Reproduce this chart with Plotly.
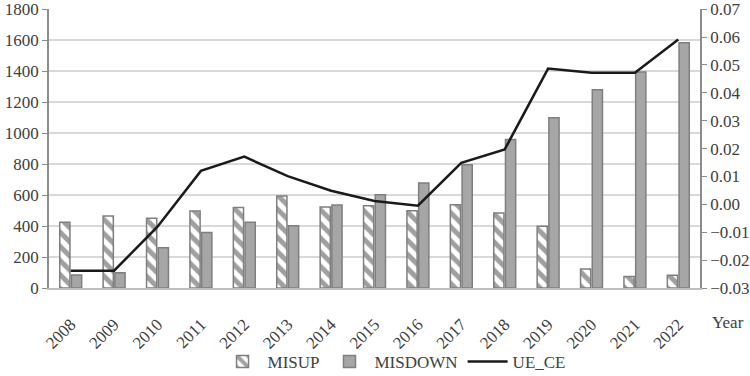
import plotly.graph_objects as go

years = [str(y) for y in range(2008, 2023)]
misup = [424, 464, 450, 497, 520, 594, 523, 531, 499, 537, 484, 398, 123, 75, 82]
misdown = [84, 99, 260, 359, 424, 402, 535, 602, 677, 795, 959, 1099, 1279, 1395, 1583]
ue_ce = [-0.0238, -0.0238, -0.008, 0.012, 0.0171, 0.0101, 0.0049, 0.0012, -0.0005,
         0.0149, 0.0197, 0.0487, 0.0472, 0.0472, 0.0591]

FONT = "Times New Roman"
TXT = "#404040"

fig = go.Figure()
fig.add_trace(go.Bar(
    x=years, y=misup, name="MISUP",
    marker=dict(color="white", line=dict(color="#7f7f7f", width=1.5),
                pattern=dict(shape="\\", fgcolor="#a0a0a0", bgcolor="white",
                             size=10, solidity=0.5, fillmode="replace")),
))
fig.add_trace(go.Bar(
    x=years, y=misdown, name="MISDOWN",
    marker=dict(color="#a6a6a6", line=dict(color="#7f7f7f", width=1.5)),
))
fig.add_trace(go.Scatter(
    x=years, y=ue_ce, name="UE_CE", yaxis="y2", mode="lines",
    line=dict(color="#1a1a1a", width=2.5),
))

fig.update_layout(
    width=750, height=376,
    margin=dict(l=49, r=50, t=9, b=88, autoexpand=False),
    paper_bgcolor="white", plot_bgcolor="white",
    font=dict(family=FONT, size=17, color=TXT),
    barmode="group", bargap=0.46, bargroupgap=0.13,
    showlegend=True,
    legend=dict(orientation="h", x=0.53, xanchor="center", y=-0.265, yanchor="middle",
                font=dict(family=FONT, size=17, color=TXT),
                itemwidth=40, tracegroupgap=0, bgcolor="rgba(0,0,0,0)"),
    xaxis=dict(type="category", tickangle=-45, showgrid=False, automargin=False,
               showline=True, linecolor="#bfbfbf", linewidth=1.5,
               ticks="", ticklabelstandoff=18,
               tickfont=dict(family=FONT, size=17, color=TXT)),
    yaxis=dict(range=[0, 1801], tickvals=list(range(0, 1801, 200)), automargin=False,
               showgrid=True, gridcolor="#d9d9d9", gridwidth=1.5,
               showline=True, linecolor="#8c8c8c", linewidth=1.5,
               ticks="outside", ticklen=5, tickcolor="#8c8c8c",
               zeroline=False, tickfont=dict(family=FONT, size=17, color=TXT)),
    yaxis2=dict(range=[-0.03, 0.07005], automargin=False,
                tickvals=[-0.03, -0.02, -0.01, 0.0, 0.01, 0.02, 0.03, 0.04, 0.05, 0.06, 0.07],
                tickformat=".2f", overlaying="y", side="right",
                showgrid=False, showline=True, linecolor="#8c8c8c", linewidth=1.5,
                ticks="outside", ticklen=5, tickcolor="#8c8c8c", zeroline=False,
                tickfont=dict(family=FONT, size=17, color=TXT)),
    annotations=[dict(text="Year", xref="paper", yref="paper", x=1.015, y=-0.125,
                      xanchor="left", yanchor="middle", showarrow=False,
                      font=dict(family=FONT, size=17, color=TXT))],
)

fig.write_html("out.html")
